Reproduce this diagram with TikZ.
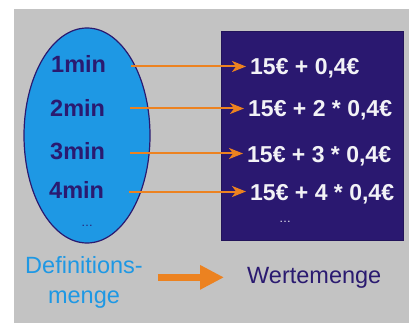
\documentclass[tikz,border=0pt]{standalone}
\usepackage{fontspec}
\setmainfont{Liberation Sans}
\usetikzlibrary{shapes.geometric,arrows.meta}
\definecolor{bggray}{RGB}{195,195,195}
\definecolor{setblue}{RGB}{30,152,228}
\definecolor{navy}{RGB}{42,26,112}
\definecolor{boxfill}{RGB}{42,24,112}
\definecolor{arrorange}{RGB}{236,130,32}
\definecolor{valwhite}{RGB}{242,242,246}
\tikzset{
  lab/.style={font=\fontsize{23.5}{28}\selectfont\bfseries, text=navy, inner sep=0pt,
              text height=17pt, text depth=0pt, anchor=west},
  val/.style={font=\fontsize{23}{28}\selectfont\bfseries, text=valwhite, inner sep=0pt,
              text height=17pt, text depth=0pt, anchor=west},
  maparrow/.style={draw=arrorange, line width=2pt, -{Stealth[length=14pt,width=11pt,inset=4pt]}},
  bigarrow/.style={draw=arrorange, line width=7pt, -{Triangle[length=24pt,width=23pt]}},
  caption/.style={font=\fontsize{23.5}{30}\selectfont, inner sep=0pt}
}
\begin{document}
\begin{tikzpicture}[x=1pt,y=-1pt]
  \useasboundingbox (0,0) rectangle (409,323);
  % background panel
  \fill[white] (0,0) rectangle (409,323);
  \fill[bggray] (14,9) rectangle (409,323);

  % domain: ellipse
  \node[ellipse, draw=navy, line width=1.2pt, fill=setblue, inner sep=0pt,
        minimum width=126pt, minimum height=215pt] (dom) at (87,135.5) {};
  % codomain: box
  \node[draw=boxfill!80!black, line width=0.6pt, fill=boxfill, inner sep=0pt,
        minimum width=182pt, minimum height=209pt] (cod) at (312,135.5) {};

  % domain elements
  \node[lab] (m1) at (51,64.5) {1min};
  \node[lab] (m2) at (50,108.5) {2min};
  \node[lab] (m3) at (50,151.5) {3min};
  \node[lab] (m4) at (49,189.5) {4min};
  \node[font=\fontsize{12}{14}\selectfont, text=navy, inner sep=0pt] (md) at (87,226) {\dots};

  % values
  \node[val] (v1) at (250,66.5) {15€ + 0,4€};
  \node[val] (v2) at (248,108.5) {15€ + 2 * 0,4€};
  \node[val] (v3) at (247,153.5) {15€ + 3 * 0,4€};
  \node[val] (v4) at (250,191.5) {15€ + 4 * 0,4€};
  \node[font=\fontsize{12}{14}\selectfont, text=valwhite, inner sep=0pt] (vd) at (285,222) {\dots};

  % mapping arrows
  \foreach \i in {1,...,4} {
    \coordinate (s\i) at ([xshift=25pt]m\i.east);
    \draw[maparrow] (s\i |- v\i.west) -- ([xshift=-4pt]v\i.west);
  }

  % captions
  \node[caption, align=center, text=setblue] (def) at (84,282) {Definitions-\\menge};
  \node[caption, anchor=base west, text=navy] (wert) at (247,283) {Wertemenge};
  \coordinate (b0) at ([xshift=15pt]def.east);
  \coordinate (b1) at ([xshift=-23pt]wert.west);
  \draw[bigarrow] (b0 |- b1) -- (b1);
\end{tikzpicture}
\end{document}
